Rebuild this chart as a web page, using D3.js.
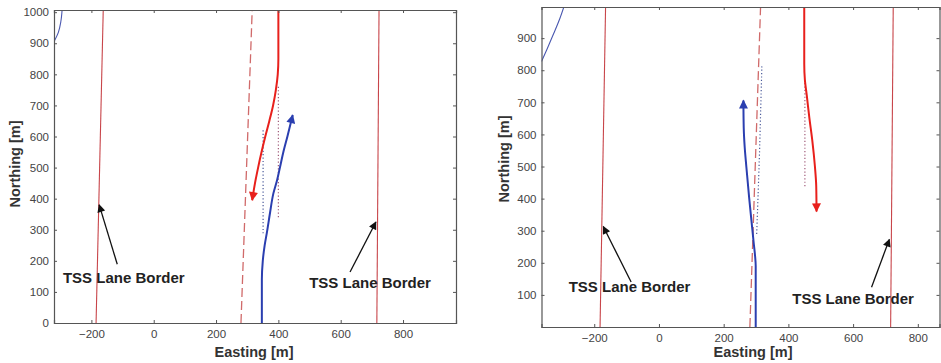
<!DOCTYPE html>
<html>
<head>
<meta charset="utf-8">
<script src="https://cdn.jsdelivr.net/npm/d3@7"></script>
<style>
  body { margin: 0; background: #fff; }
  svg { display: block; }
  text { font-family: "Liberation Sans", Arial, sans-serif; }
</style>
</head>
<body>
<svg id="chart" width="941" height="363"></svg>
<script>
// ---- data (metres) ----
const xTicks = [-200, 0, 200, 400, 600, 800];
const yTicksA = [0, 100, 200, 300, 400, 500, 600, 700, 800, 900, 1000];
const yTicksB = [100, 200, 300, 400, 500, 600, 700, 800, 900];

// panel A (left)
const borderLeftA = [[-185, 0], [-162, 1007]];
const borderRightA = [[716, 0], [723, 1007]];
const dashedA = [[280, 0], [316, 1007]];
const redA = [[400, 1007], [400, 850], [398, 800], [392, 750], [383, 700], [371, 650], [358, 600], [346, 550], [335, 500], [325, 450], [316, 395]];
const redDotA = [[400, 760], [400, 337]];
const blueA = [[347, 0], [347, 140], [350, 200], [356, 250], [363, 290], [373, 353], [384, 417], [396, 460], [405, 500], [416, 550], [429, 600], [446, 669]];
const blueDotA = [[351, 620], [351, 289]];
const blueCornerA = [[-320, 905], [-306, 935], [-298, 970], [-294, 1007]];

// panel B (right)
const borderLeftB = [[-182, 0], [-165, 997]];
const borderRightB = [[716, 0], [724, 997]];
const dashedB = [[281, 0], [314, 997]];
const blueB = [[299, 0], [299, 190], [297, 222], [293, 260], [287, 320], [279, 400], [270, 500], [265, 560], [262, 620], [261, 706]];
const blueDotB = [[302, 290], [306, 400], [311, 550], [315, 700], [318, 812]];
const redB = [[449, 997], [449, 820], [451, 770], [457, 720], [465, 650], [474, 580], [482, 500], [486, 440], [487, 360]];
const redDotB = [[451, 760], [451, 438]];
const blueCornerB = [[-363, 827], [-345, 868], [-325, 915], [-306, 962], [-294, 997]];

// annotations: [text x, text y, arrow from x,y, arrow to x,y] in data units
const notesA = [
  [-96, 147, -117, 189, -175, 380],
  [694, 129, 630, 164, 713, 325]
];
const notesB = [
  [-91, 125, -86, 140, -172, 313],
  [600, 88, 657, 124, 712, 273]
];

const panels = [
  { box: [54, 456, 10, 323], x: [-320, 970], y: [0, 1007], yTicks: yTicksA,
    borders: [borderLeftA, borderRightA], dashed: dashedA, red: redA, redDot: redDotA,
    blue: blueA, blueDot: blueDotA, corner: blueCornerA, notes: notesA,
    ylab: [15, 164], xlab: [254, 352] },
  { box: [541.5, 939.5, 7, 327], x: [-363, 867], y: [0, 997], yTicks: yTicksB,
    borders: [borderLeftB, borderRightB], dashed: dashedB, red: redB, redDot: redDotB,
    blue: blueB, blueDot: blueDotB, corner: blueCornerB, notes: notesB,
    ylab: [504, 159], xlab: [753, 352] }
];

const svg = d3.select("#chart");
const defs = svg.append("defs");

function marker(id, color, w, h) {
  defs.append("marker")
    .attr("id", id)
    .attr("viewBox", "0 0 10 10")
    .attr("refX", 9).attr("refY", 5)
    .attr("markerUnits", "userSpaceOnUse")
    .attr("markerWidth", w).attr("markerHeight", h)
    .attr("orient", "auto")
    .append("path").attr("d", "M0,0 L10,5 L0,10 Z").attr("fill", color);
}
marker("arRed", "#e8201c", 13, 9);
marker("arBlue", "#2b3fb0", 13, 9);
marker("arBlack", "#111", 12, 8);

panels.forEach(function(p, i) {
  const [x0, x1, y0, y1] = p.box;
  const x = d3.scaleLinear().domain(p.x).range([x0, x1]);
  const y = d3.scaleLinear().domain(p.y).range([y1, y0]);
  const line = d3.line().x(d => x(d[0])).y(d => y(d[1]));
  const smooth = d3.line().x(d => x(d[0])).y(d => y(d[1])).curve(d3.curveMonotoneY);

  defs.append("clipPath").attr("id", "clip" + i)
    .append("rect").attr("x", x0).attr("y", y0).attr("width", x1 - x0).attr("height", y1 - y0);

  const g = svg.append("g");
  const plot = g.append("g").attr("clip-path", "url(#clip" + i + ")");

  // axes, matlab style: ticks in, on all sides
  const axisColor = "#555";
  const fmt = d3.format("d");
  const bottom = g.append("g").attr("transform", "translate(0," + y1 + ")")
    .call(d3.axisBottom(x).tickValues(xTicks).tickFormat(fmt).tickSize(-3).tickPadding(7));
  const top = g.append("g").attr("transform", "translate(0," + y0 + ")")
    .call(d3.axisTop(x).tickValues(xTicks).tickSize(-3).tickFormat(""));
  const left = g.append("g").attr("transform", "translate(" + x0 + ",0)")
    .call(d3.axisLeft(y).tickValues(p.yTicks).tickFormat(fmt).tickSize(-3).tickPadding(5));
  const right = g.append("g").attr("transform", "translate(" + x1 + ",0)")
    .call(d3.axisRight(y).tickValues(p.yTicks).tickSize(-3).tickFormat(""));
  [bottom, top, left, right].forEach(a => {
    a.select(".domain").attr("stroke", axisColor).attr("stroke-width", 1.2);
    a.selectAll(".tick line").attr("stroke", axisColor);
    a.selectAll(".tick text").attr("fill", "#444").style("font-size", "11.5px")
      .style("font-family", "'Liberation Sans', Arial, sans-serif");
  });

  // lane borders
  p.borders.forEach(b => plot.append("path").attr("d", line(b))
    .attr("fill", "none").attr("stroke", "#c8454a").attr("stroke-width", 1.1));
  plot.append("path").attr("d", line(p.dashed)).attr("fill", "none")
    .attr("stroke", "#d06a6a").attr("stroke-width", 1.3).attr("stroke-dasharray", "9,4");

  // dotted reference tracks
  plot.append("path").attr("d", line(p.redDot)).attr("fill", "none")
    .attr("stroke", "#a05a78").attr("stroke-width", 1.2).attr("stroke-dasharray", "1.2,2.2");
  plot.append("path").attr("d", line(p.blueDot)).attr("fill", "none")
    .attr("stroke", "#4a5a9a").attr("stroke-width", 1.2).attr("stroke-dasharray", "1.2,2.2");

  // corner blue track
  plot.append("path").attr("d", smooth(p.corner))
    .attr("fill", "none").attr("stroke", "#4a58b0").attr("stroke-width", 1.1);

  // trajectories
  plot.append("path").attr("d", smooth(p.red)).attr("fill", "none")
    .attr("stroke", "#e8201c").attr("stroke-width", 2).attr("marker-end", "url(#arRed)");
  plot.append("path").attr("d", smooth(p.blue)).attr("fill", "none")
    .attr("stroke", "#2b3fb0").attr("stroke-width", 2).attr("marker-end", "url(#arBlue)");

  // annotations
  p.notes.forEach(n => {
    g.append("line").attr("x1", x(n[2])).attr("y1", y(n[3]))
      .attr("x2", x(n[4])).attr("y2", y(n[5]))
      .attr("stroke", "#111").attr("stroke-width", 1.3).attr("marker-end", "url(#arBlack)");
    g.append("text").attr("x", x(n[0])).attr("y", y(n[1]))
      .attr("text-anchor", "middle").attr("dy", "0.35em")
      .style("font-size", "15px").style("font-weight", "bold").attr("fill", "#222")
      .text("TSS Lane Border");
  });

  // axis labels
  g.append("text").attr("x", p.xlab[0]).attr("y", p.xlab[1])
    .attr("text-anchor", "middle").attr("dy", "0.35em")
    .style("font-size", "14.5px").style("font-weight", "bold").attr("fill", "#333")
    .text("Easting [m]");
  g.append("text").attr("transform", "translate(" + p.ylab[0] + "," + p.ylab[1] + ") rotate(-90)")
    .attr("text-anchor", "middle").attr("dy", "0.35em")
    .style("font-size", "14.5px").style("font-weight", "bold").attr("fill", "#333")
    .text("Northing [m]");
});
</script>
</body>
</html>
